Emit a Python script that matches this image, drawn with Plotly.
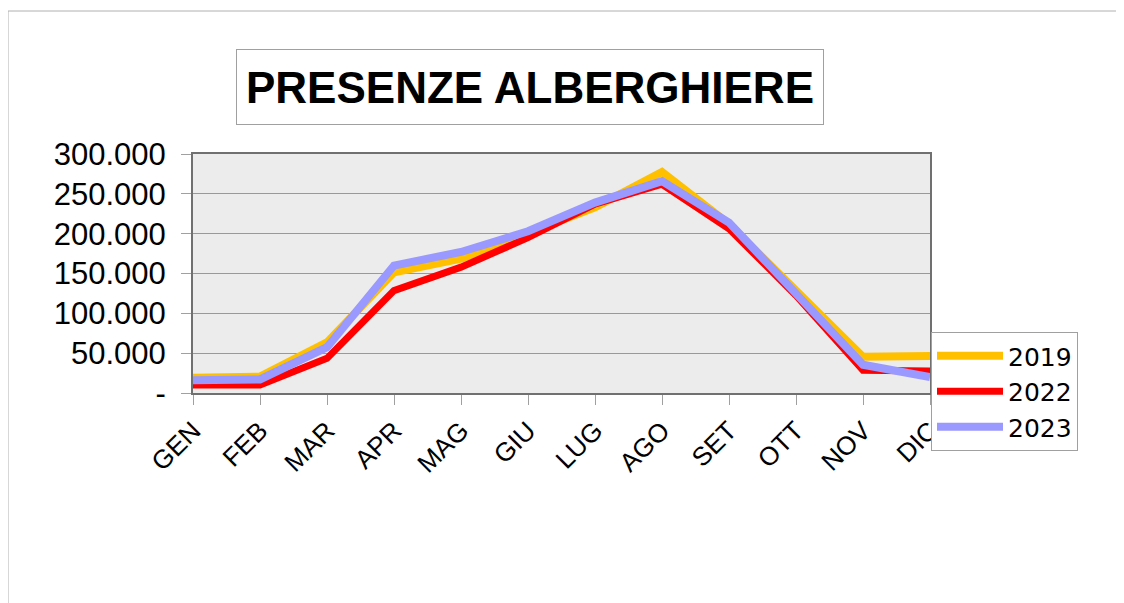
import plotly.graph_objects as go

months = ["GEN", "FEB", "MAR", "APR", "MAG", "GIU", "LUG", "AGO", "SET", "OTT", "NOV", "DIC"]
v2019 = [19000, 20500, 63500, 151500, 168500, 200000, 233000, 277500, 212000, 128500, 45500, 46500]
v2022 = [10000, 10000, 43500, 128500, 158000, 195000, 237000, 262000, 206000, 122500, 28500, 27500]
v2023 = [16000, 17000, 57500, 160000, 177000, 203000, 239000, 266000, 214000, 125000, 35500, 20000]
series_names = ["2019", "2022", "2023"]
series_colors = ["#FFC000", "#FF0000", "#9999FF"]
series_widths = [8, 7, 8]
y_ticks = [0, 50000, 100000, 150000, 200000, 250000, 300000]
y_ticktext = ["-" if v == 0 else f"{v:,}".replace(",", ".") for v in y_ticks]

fig = go.Figure()
for name, vals, col, w in zip(series_names, [v2019, v2022, v2023], series_colors, series_widths):
    fig.add_trace(go.Scatter(x=months, y=vals, mode="lines", name=name,
                             line=dict(color=col, width=w)))

FONT = "Liberation Sans, Arial, sans-serif"
OFF = 8  # page body margin
W, H = 1124 - OFF, 603 - OFF
# target screen pixels of plot area
SL, SR, ST, SB = 193, 930, 154, 393
L, R, T, B = SL - OFF, SR - OFF, ST - OFF, SB - OFF

def px_x(px):  # screen px -> paper
    return (px - SL) / (SR - SL)

def px_y(py):
    return (SB - py) / (SB - ST)

fig.update_layout(
    width=W, height=H,
    margin=dict(l=L, r=W - R, t=T, b=H - B, pad=0),
    paper_bgcolor="white",
    plot_bgcolor="#ececec",
    font=dict(family=FONT, color="black"),
    showlegend=True,
    legend=dict(
        x=px_x(931), y=px_y(332), xanchor="left", yanchor="top",
        bgcolor="white", bordercolor="#a0a0a0", borderwidth=1,
        font=dict(family="DejaVu Sans, sans-serif", size=25, color="black"),
        itemwidth=66, tracegroupgap=0,
    ),
    xaxis=dict(
        type="category", range=[0, 11],
        showgrid=False, showline=True, mirror=True,
        linecolor="#707070", linewidth=2,
        ticks="outside", ticklen=10, tickcolor="#a0a0a0", tickwidth=1,
        tickangle=-45, tickfont=dict(family=FONT, size=26, color="black"),
        zeroline=False,
    ),
    yaxis=dict(
        range=[0, 300000], tickvals=y_ticks, ticktext=y_ticktext,
        showgrid=True, gridcolor="#999999", gridwidth=1,
        showline=True, mirror=True, linecolor="#707070", linewidth=2,
        ticks="outside", ticklen=10, tickcolor="#a0a0a0", tickwidth=1,
        tickfont=dict(family=FONT, size=31, color="black"),
        ticklabelstandoff=9,
        zeroline=False,
    ),
    annotations=[dict(
        text="<b>PRESENZE ALBERGHIERE</b>",
        xref="paper", yref="paper", x=px_x(530), y=px_y(87),
        xanchor="center", yanchor="middle", showarrow=False,
        font=dict(family=FONT, size=44, color="black"),
        bgcolor="white", bordercolor="#a0a0a0", borderwidth=1, borderpad=1,
        width=584, height=72,
    )],
    shapes=[
        dict(type="line", xref="paper", yref="paper",
             x0=px_x(8), x1=px_x(1130), y0=px_y(11), y1=px_y(11),
             line=dict(color="#b0b0b0", width=1), layer="below"),
        dict(type="line", xref="paper", yref="paper",
             x0=px_x(8), x1=px_x(8), y0=px_y(11), y1=px_y(610),
             line=dict(color="#b0b0b0", width=1), layer="below"),
    ],
)

fig.write_html("out.html")
